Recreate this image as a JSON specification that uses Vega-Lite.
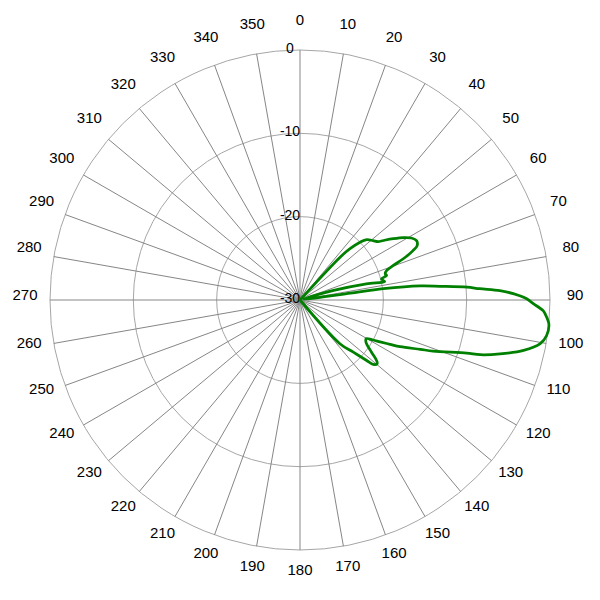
{
  "$schema": "https://vega.github.io/schema/vega-lite/v6.json",
  "width": 600,
  "height": 600,
  "padding": 0,
  "autosize": {"type": "none"},
  "background": "white",
  "config": {"view": {"stroke": null}, "font": "Liberation Sans"},
  "datasets": {
    "spokes": [
      {"a": 0}, {"a": 10}, {"a": 20}, {"a": 30}, {"a": 40}, {"a": 50}, {"a": 60}, {"a": 70}, {"a": 80},
      {"a": 90}, {"a": 100}, {"a": 110}, {"a": 120}, {"a": 130}, {"a": 140}, {"a": 150}, {"a": 160}, {"a": 170},
      {"a": 180}, {"a": 190}, {"a": 200}, {"a": 210}, {"a": 220}, {"a": 230}, {"a": 240}, {"a": 250}, {"a": 260},
      {"a": 270}, {"a": 280}, {"a": 290}, {"a": 300}, {"a": 310}, {"a": 320}, {"a": 330}, {"a": 340}, {"a": 350}
    ],
    "rings": [{"ring": 0}, {"ring": -10}, {"ring": -20}],
    "rlabels": [{"ring": 0}, {"ring": -10}, {"ring": -20}, {"ring": -30}],
    "pattern": [
      {"i": 0, "a": 0, "db": -30},
      {"i": 1, "a": 10, "db": -30},
      {"i": 2, "a": 20, "db": -30},
      {"i": 3, "a": 30, "db": -30},
      {"i": 4, "a": 40, "db": -30},
      {"i": 5, "a": 43.1, "db": -23.0},
      {"i": 6, "a": 44.3, "db": -21.4},
      {"i": 7, "a": 46.1, "db": -20.0},
      {"i": 8, "a": 47.9, "db": -19.2},
      {"i": 9, "a": 50.9, "db": -18.7},
      {"i": 10, "a": 53.2, "db": -18.3},
      {"i": 11, "a": 54.5, "db": -17.7},
      {"i": 12, "a": 56.7, "db": -16.6},
      {"i": 13, "a": 58.9, "db": -15.5},
      {"i": 14, "a": 60.9, "db": -14.7},
      {"i": 15, "a": 63.0, "db": -14.3},
      {"i": 16, "a": 65.1, "db": -14.5},
      {"i": 17, "a": 66.4, "db": -15.2},
      {"i": 18, "a": 68.3, "db": -16.7},
      {"i": 19, "a": 69.7, "db": -18.1},
      {"i": 20, "a": 71.2, "db": -19.0},
      {"i": 21, "a": 72.9, "db": -19.3},
      {"i": 22, "a": 74.2, "db": -19.2},
      {"i": 23, "a": 75.5, "db": -19.9},
      {"i": 24, "a": 77.7, "db": -19.6},
      {"i": 25, "a": 76.3, "db": -21.8},
      {"i": 26, "a": 74.1, "db": -25.8},
      {"i": 27, "a": 78.0, "db": -29.5},
      {"i": 28, "a": 82.4, "db": -28.0},
      {"i": 29, "a": 82.3, "db": -23.9},
      {"i": 30, "a": 82.3, "db": -19.9},
      {"i": 31, "a": 83.3, "db": -15.5},
      {"i": 32, "a": 84.4, "db": -13.1},
      {"i": 33, "a": 85.6, "db": -9.9},
      {"i": 34, "a": 86.4, "db": -8.4},
      {"i": 35, "a": 87.3, "db": -6.0},
      {"i": 36, "a": 88.3, "db": -4.4},
      {"i": 37, "a": 89.7, "db": -2.8},
      {"i": 38, "a": 90.9, "db": -2.0},
      {"i": 39, "a": 92.5, "db": -0.8},
      {"i": 40, "a": 93.2, "db": -0.55},
      {"i": 41, "a": 95.5, "db": 0.0},
      {"i": 42, "a": 98.2, "db": -0.1},
      {"i": 43, "a": 100.3, "db": -0.7},
      {"i": 44, "a": 102.7, "db": -2.5},
      {"i": 45, "a": 105.1, "db": -5.15},
      {"i": 46, "a": 106.9, "db": -7.4},
      {"i": 47, "a": 107.7, "db": -9.0},
      {"i": 48, "a": 111.0, "db": -12.9},
      {"i": 49, "a": 112.3, "db": -14.4},
      {"i": 50, "a": 115.0, "db": -16.75},
      {"i": 51, "a": 116.2, "db": -17.95},
      {"i": 52, "a": 117.6, "db": -19.15},
      {"i": 53, "a": 118.7, "db": -20.0},
      {"i": 54, "a": 120.3, "db": -20.8},
      {"i": 55, "a": 122.6, "db": -20.6},
      {"i": 56, "a": 126.1, "db": -19.4},
      {"i": 57, "a": 128.3, "db": -18.3},
      {"i": 58, "a": 129.5, "db": -18.0},
      {"i": 59, "a": 131.3, "db": -18.3},
      {"i": 60, "a": 132.2, "db": -19.2},
      {"i": 61, "a": 134.4, "db": -21.05},
      {"i": 62, "a": 137.6, "db": -22.9},
      {"i": 63, "a": 140, "db": -30},
      {"i": 64, "a": 150, "db": -30},
      {"i": 65, "a": 180, "db": -30},
      {"i": 66, "a": 210, "db": -30},
      {"i": 67, "a": 240, "db": -30},
      {"i": 68, "a": 270, "db": -30},
      {"i": 69, "a": 300, "db": -30},
      {"i": 70, "a": 330, "db": -30},
      {"i": 71, "a": 350, "db": -30}
    ]
  },
  "layer": [
    {
      "data": {"name": "rings"},
      "transform": [
        {"calculate": "datum.ring+30", "as": "u"},
        {"calculate": "0", "as": "cx"}
      ],
      "mark": {"type": "point", "shape": "circle", "filled": false, "stroke": "#a6a6a6", "strokeWidth": 1, "opacity": 1},
      "encoding": {
        "x": {"field": "cx", "type": "quantitative", "scale": {"domain": [-36, 36], "nice": false, "zero": false}, "axis": null},
        "y": {"field": "cx", "type": "quantitative", "scale": {"domain": [-36, 36], "nice": false, "zero": false}, "axis": null},
        "size": {"field": "u", "type": "quantitative", "legend": null, "scale": {"type": "pow", "exponent": 2, "domain": [0, 36], "range": [0, 360000], "zero": true, "nice": false}}
      }
    },
    {
      "data": {"name": "spokes"},
      "transform": [
        {"calculate": "30*sin(datum.a*PI/180)", "as": "ex"},
        {"calculate": "30*cos(datum.a*PI/180)", "as": "ey"},
        {"calculate": "0", "as": "cx"}
      ],
      "mark": {"type": "rule", "stroke": "#868686", "strokeWidth": 1},
      "encoding": {
        "x": {"field": "cx", "type": "quantitative", "scale": {"domain": [-36, 36], "nice": false, "zero": false}, "axis": null},
        "y": {"field": "cx", "type": "quantitative", "scale": {"domain": [-36, 36], "nice": false, "zero": false}, "axis": null},
        "x2": {"field": "ex"},
        "y2": {"field": "ey"}
      }
    },
    {
      "data": {"name": "spokes"},
      "transform": [
        {"calculate": "33*sin(datum.a*PI/180)", "as": "lx"},
        {"calculate": "33*cos(datum.a*PI/180)", "as": "ly"}
      ],
      "mark": {"type": "text", "fontSize": 15, "align": "center", "baseline": "middle", "dy": -5, "color": "#000000"},
      "encoding": {
        "x": {"field": "lx", "type": "quantitative", "scale": {"domain": [-36, 36], "nice": false, "zero": false}, "axis": null},
        "y": {"field": "ly", "type": "quantitative", "scale": {"domain": [-36, 36], "nice": false, "zero": false}, "axis": null},
        "text": {"field": "a", "type": "nominal"}
      }
    },
    {
      "data": {"name": "rlabels"},
      "transform": [
        {"calculate": "datum.ring+30", "as": "ry"},
        {"calculate": "0", "as": "cx"}
      ],
      "mark": {"type": "text", "fontSize": 14, "align": "center", "baseline": "middle", "dx": -10, "dy": -1, "color": "#000000"},
      "encoding": {
        "x": {"field": "cx", "type": "quantitative", "scale": {"domain": [-36, 36], "nice": false, "zero": false}, "axis": null},
        "y": {"field": "ry", "type": "quantitative", "scale": {"domain": [-36, 36], "nice": false, "zero": false}, "axis": null},
        "text": {"field": "ring", "type": "nominal"}
      }
    },
    {
      "data": {"name": "pattern"},
      "transform": [
        {"calculate": "(datum.db+30)*sin(datum.a*PI/180)", "as": "px"},
        {"calculate": "(datum.db+30)*cos(datum.a*PI/180)", "as": "py"}
      ],
      "mark": {"type": "line", "stroke": "#008000", "strokeWidth": 2.75, "interpolate": "catmull-rom", "strokeJoin": "round", "strokeCap": "round"},
      "encoding": {
        "x": {"field": "px", "type": "quantitative", "scale": {"domain": [-36, 36], "nice": false, "zero": false}, "axis": null},
        "y": {"field": "py", "type": "quantitative", "scale": {"domain": [-36, 36], "nice": false, "zero": false}, "axis": null},
        "order": {"field": "i", "type": "quantitative"}
      }
    }
  ]
}
